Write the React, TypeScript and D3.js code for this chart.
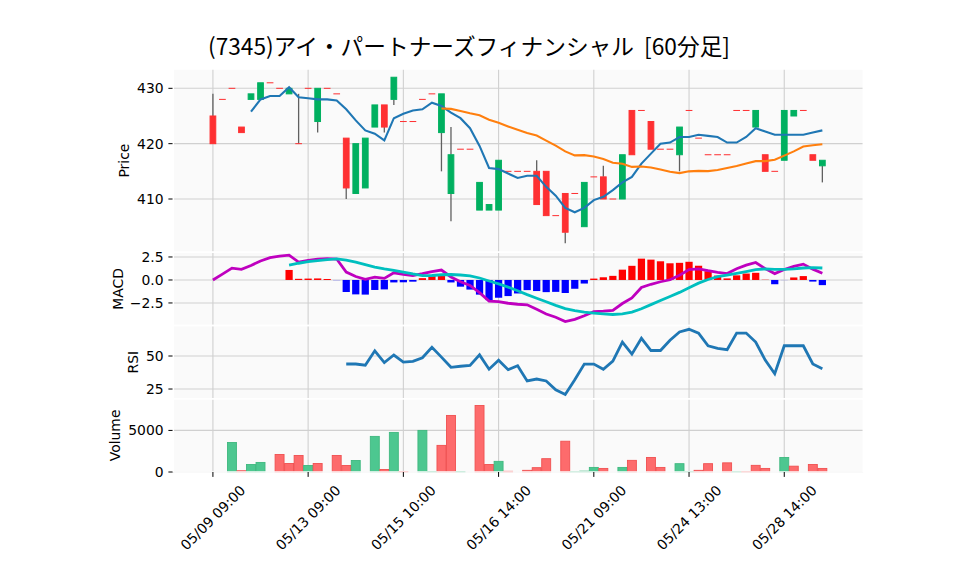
import React from 'react';
import * as d3 from 'd3';

const title = '(7345)アイ・パートナーズフィナンシャル  [60分足]';
const tickIndex = [0, 10, 20, 30, 40, 50, 60];
const tickLabels = ['05/09 09:00', '05/13 09:00', '05/15 10:00', '05/16 14:00', '05/21 09:00', '05/24 13:00', '05/28 14:00'];

const opens = [425,428,430,423,428,428,431,430,429,420, 430,424,430,429,421,411,412,423,427,428, 424,424,428,429,422,411,419,419,408,408, 408,415,415,415,415,415,407,411,411,405, 414,414,410,410,426,426,424,419,419,418, 426,421,418,418,418,426,426,423,418,415, 417,425,426,418,416];
const highs = [429,428,430,423,429,431,431,430,430,429, 430,430,430,429,421,420,421,427,427,432, 424,424,428,429,429,423,419,419,413,409, 417,415,415,415,417,415,407,411,411,413, 414,416,410,418,426,426,424,419,419,423, 426,421,418,418,418,426,426,426,418,415, 426,426,426,418,417];
const lows = [420,428,430,422,428,428,431,430,429,420, 430,422,430,429,410,411,412,423,422,427, 424,424,428,429,415,406,419,419,408,408, 408,415,415,415,409,407,407,402,411,405, 414,410,410,410,418,426,419,419,419,415, 426,421,418,418,418,426,426,423,415,415, 417,425,426,417,413];
const closes = [420,428,430,422,429,431,431,430,430,420, 430,430,430,429,412,420,421,427,423,432, 424,424,428,429,429,418,419,419,413,409, 417,415,415,415,409,407,407,404,411,413, 414,410,410,418,418,426,419,419,419,423, 426,421,418,418,418,426,426,426,415,415, 426,426,426,417,417];
const volumes = [0,0,3550,150,900,1150,0,2100,1020,1990, 780,1020,0,1990,780,1380,0,4280,300,4760, 60,0,5000,60,3200,6800,60,0,8000,900, 1280,80,0,200,520,1600,0,3700,40,100, 550,430,0,550,1400,0,1750,550,0,1000, 40,200,1000,0,1100,40,40,800,430,0, 1750,700,0,900,430];
const volumeUp = [0,0,1,0,1,1,0,0,0,0, 1,0,0,0,0,1,0,1,0,1, 0,0,1,1,0,0,1,0,0,0, 1,0,0,0,0,0,0,0,1,1, 1,0,0,1,0,0,0,0,0,1, 1,0,0,0,0,1,0,0,0,0, 1,0,0,0,0];

const priceTicks = [410, 420, 430];
const macdTicks = [-2.5, 0, 2.5];
const rsiTicks = [25, 50];
const volTicks = [0, 5000];

// derived indicators
function sma(vals: number[], n: number): (number | null)[] {
  return vals.map((_, i) => (i < n - 1 ? null : (d3.mean(vals.slice(i - n + 1, i + 1)) as number)));
}
function ema(vals: number[], span: number): number[] {
  const a = 2 / (span + 1);
  const out: number[] = [];
  vals.forEach((v, i) => out.push(i === 0 ? v : a * v + (1 - a) * out[i - 1]));
  return out;
}
const ma5 = sma(closes, 5);
const ma25 = sma(closes, 25);
const ema12 = ema(closes, 12);
const ema26 = ema(closes, 26);
const macd = ema12.map((v, i) => v - ema26[i]);
const signal = sma(macd, 9);
const hist = macd.map((v, i) => (signal[i] == null ? null : v - (signal[i] as number)));
const rsi = closes.map((_, i) => {
  if (i < 14) return null;
  let g = 0, l = 0;
  for (let k = i - 13; k <= i; k++) {
    const d = closes[k] - closes[k - 1];
    if (d > 0) g += d; else l -= d;
  }
  return g + l === 0 ? null : (100 * g) / (g + l);
});

const FONT = '"DejaVu Sans", sans-serif';
const L = 173.3, R = 863.3;
const P = { price: [69, 252.2], macd: [252.2, 325.5], rsi: [325.5, 398.8], vol: [398.8, 472] };

export default function App() {
  const idx = d3.range(closes.length);
  const x = d3.scaleLinear().domain([-4.16, 68.3]).range([L, R]);
  const step = x(1) - x(0);
  const yP = d3.scaleLinear().domain([400.39, 433.49]).range([P.price[1], P.price[0]]);
  const yM = d3.scaleLinear().domain([-4.95, 3.02]).range([P.macd[1], P.macd[0]]);
  const yR = d3.scaleLinear().domain([17.6, 73.1]).range([P.rsi[1], P.rsi[0]]);
  const yV = d3.scaleLinear().domain([0, 8800]).range([P.vol[1], P.vol[0]]);

  const mk = (ys: (number | null)[], sc: d3.ScaleLinear<number, number>) =>
    d3.line<number>().defined((i) => ys[i] != null).x((i) => x(i)).y((i) => sc(ys[i] as number))(idx) || '';

  const panels: [string, number[], d3.ScaleLinear<number, number>, number[], (v: number) => string, number][] = [
    ['Price', P.price, yP, priceTicks, (v) => String(v), 123.5],
    ['MACD', P.macd, yM, macdTicks, (v) => v.toFixed(1).replace('-', '\u2212'), 118],
    ['RSI', P.rsi, yR, rsiTicks, (v) => String(v), 132.5],
    ['Volume', P.vol, yV, volTicks, (v) => String(v), 115],
  ];

  return (
    <svg width={958} height={575} style={{ position: 'absolute', left: 0, top: 0, background: '#fff' }} fontFamily={FONT}>
      <rect x={0} y={0} width={958} height={575} fill="#ffffff" />
      <text x={469} y={45} textAnchor="middle" dominantBaseline="central" fontSize={22.7} fontWeight={400}
        fontFamily='"Noto Sans CJK JP", sans-serif' fill="#000" style={{ whiteSpace: 'pre' }}>{title}</text>
      {panels.map(([name, r, sc, ticks, fmt, lx]) => (
        <g key={name}>
          <rect x={L} y={r[0]} width={R - L} height={r[1] - r[0]} fill="#fafafa" />
          {tickIndex.map((t) => (
            <line key={t} x1={x(t)} x2={x(t)} y1={r[0]} y2={r[1]} stroke="#d0d0d0" strokeWidth={1.1} />
          ))}
          {ticks.map((t) => (
            <g key={t}>
              <line x1={L} x2={R} y1={sc(t)} y2={sc(t)} stroke="#d0d0d0" strokeWidth={1.1} />
              <line x1={L - 4.9} x2={L} y1={sc(t)} y2={sc(t)} stroke="#000" strokeWidth={1} />
              <text x={L - 9.7} y={sc(t)} textAnchor="end" dominantBaseline="central" fontSize={13.9} fill="#000">{fmt(t)}</text>
            </g>
          ))}
          <text transform={`translate(${lx},${(r[0] + r[1]) / 2}) rotate(-90)`} textAnchor="middle" dominantBaseline="central" fontSize={13.9} fill="#000">{name}</text>
        </g>
      ))}

      {/* candles */}
      {idx.map((i) => {
        const up = closes[i] > opens[i];
        const col = up ? '#00b060' : '#fe3032';
        const top = yP(Math.max(opens[i], closes[i]));
        const bot = yP(Math.min(opens[i], closes[i]));
        const w = step * 0.6;
        return (
          <g key={i}>
            {highs[i] > Math.max(opens[i], closes[i]) && (
              <line x1={x(i)} x2={x(i)} y1={yP(highs[i])} y2={top} stroke="#606060" strokeWidth={1.3} />
            )}
            {lows[i] < Math.min(opens[i], closes[i]) && (
              <line x1={x(i)} x2={x(i)} y1={bot} y2={yP(lows[i])} stroke="#606060" strokeWidth={1.3} />
            )}
            <rect x={x(i) - w / 2} y={top} width={w} height={Math.max(bot - top, 0.01)} fill={col} stroke={col} strokeWidth={1} />
          </g>
        );
      })}
      <path d={mk(ma5, yP)} fill="none" stroke="#1f77b4" strokeWidth={2.1} />
      <path d={mk(ma25, yP)} fill="none" stroke="#ff7f0e" strokeWidth={2.1} />

      {/* MACD */}
      {idx.map((i) =>
        hist[i] == null ? null : (
          <rect key={i} x={x(i) - step * 0.38} width={step * 0.76}
            y={Math.min(yM(hist[i] as number), yM(0))} height={Math.abs(yM(hist[i] as number) - yM(0))}
            fill={(hist[i] as number) >= 0 ? '#ff0000' : '#0000ff'} />
        )
      )}
      <path d={mk(macd, yM)} fill="none" stroke="#bf00bf" strokeWidth={2.8} />
      <path d={mk(signal, yM)} fill="none" stroke="#00bfbf" strokeWidth={2.8} />

      {/* RSI */}
      <path d={mk(rsi, yR)} fill="none" stroke="#1f77b4" strokeWidth={2.8} />

      {/* Volume */}
      {idx.map((i) =>
        volumes[i] > 0 ? (
          <rect key={i} x={x(i) - step * 0.47} width={step * 0.94} y={yV(volumes[i])} height={yV(0) - yV(volumes[i])}
            fill={volumeUp[i] ? '#4dc790' : '#fd6b6c'} stroke={volumeUp[i] ? '#3fb87f' : '#f05050'} strokeWidth={0.9} />
        ) : null
      )}

      {/* panel borders */}
      {Object.values(P).map((r, k) => (
        <rect key={k} x={L} y={r[0]} width={R - L} height={r[1] - r[0]} fill="none" stroke="#ffffff" strokeWidth={1.5} />
      ))}

      {/* x ticks */}
      {tickIndex.map((t, k) => (
        <g key={t}>
          <line x1={x(t)} x2={x(t)} y1={P.vol[1]} y2={P.vol[1] + 4.9} stroke="#000" strokeWidth={1} />
          <text transform={`translate(${x(t)},${517.5}) rotate(-45)`} textAnchor="middle" dominantBaseline="central" fontSize={13.9} fill="#000">{tickLabels[k]}</text>
        </g>
      ))}
    </svg>
  );
}
